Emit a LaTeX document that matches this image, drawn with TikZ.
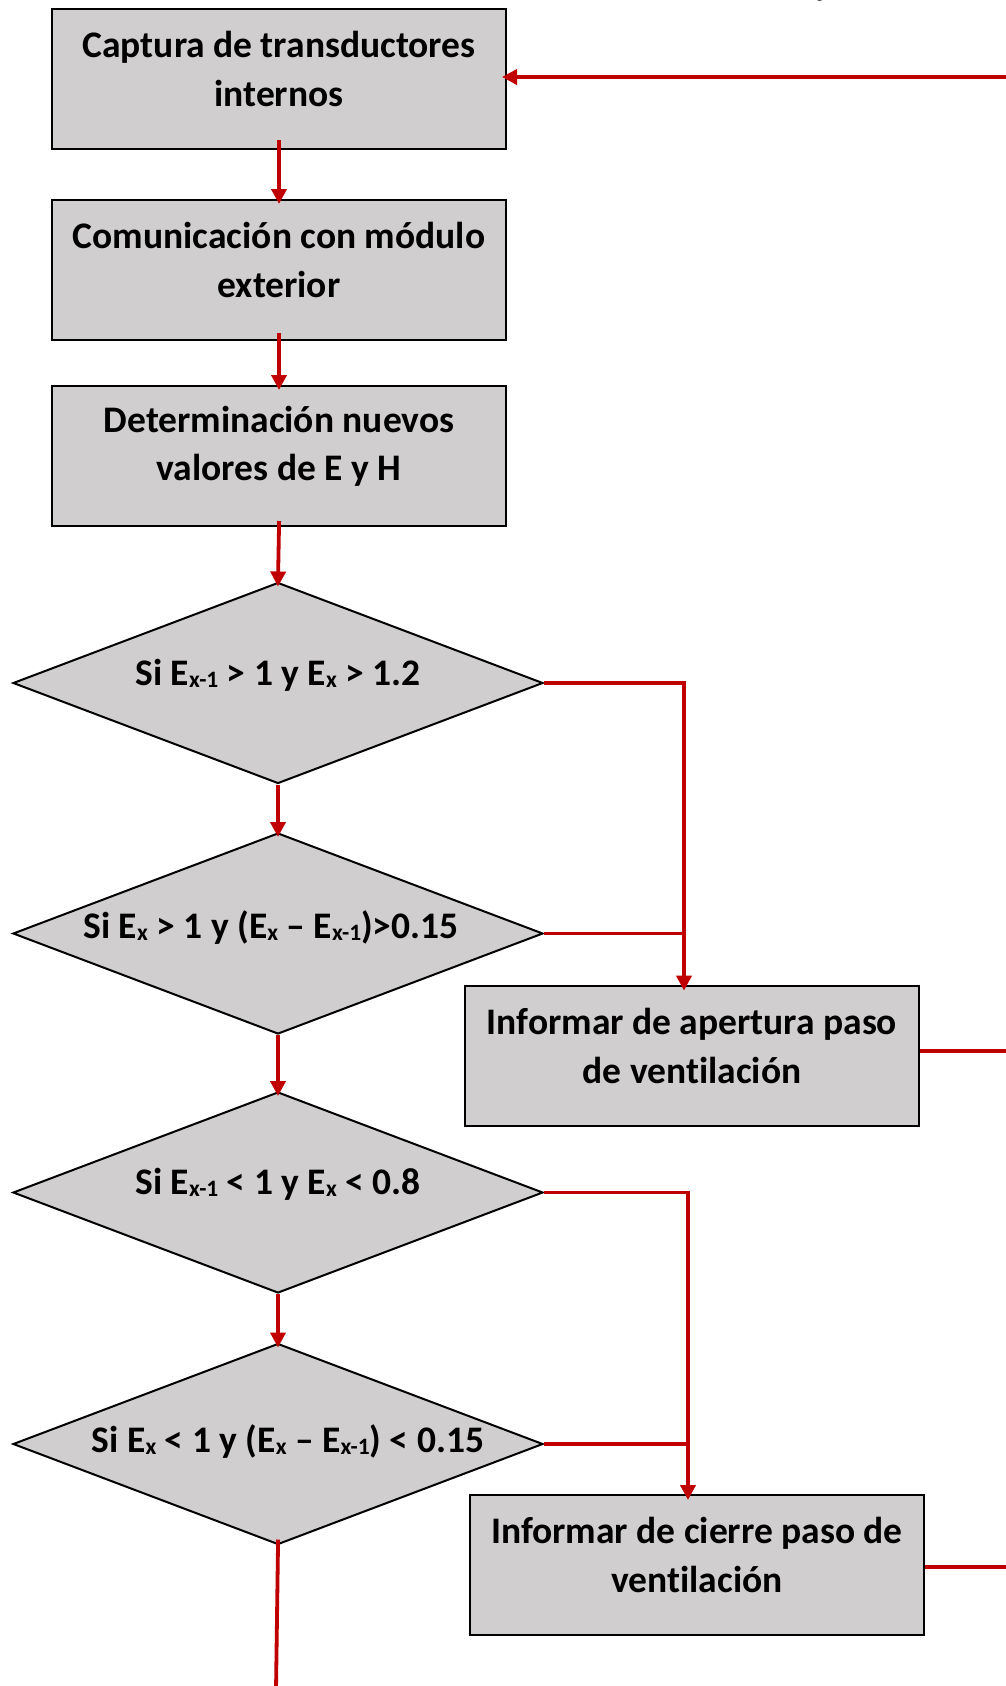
\documentclass[tikz,border=0pt]{standalone}
\usepackage{fontspec}
\setmainfont{Carlito}[Ligatures={NoCommon,NoContextual},RawFeature={-calt}]
\usetikzlibrary{arrows.meta,shapes.geometric,calc}
\definecolor{boxgray}{HTML}{D0CECE}
\definecolor{flowred}{HTML}{C00000}
% lowered, smaller index for E_x, E_{x-1}
\newcommand\subx[1]{\raisebox{-2pt}{\fontsize{23.5}{23.5}\selectfont #1}}
\begin{document}
\begin{tikzpicture}[x=1pt,y=-1pt,
  stepbox/.style={draw=black,line width=2pt,fill=boxgray,
    minimum width=454pt,minimum height=140pt,inner sep=0pt},
  decision/.style={diamond,draw=black,line width=2pt,fill=boxgray,
    minimum width=530pt,minimum height=201pt,inner sep=0pt,aspect=2.6},
  boxtext/.style={font=\fontsize{37.5}{48.4}\selectfont\bfseries,
    align=center,inner sep=0pt},
  flow/.style={draw=flowred,line width=3.8pt},
  arr/.style={flow,-{Triangle[width=15pt,length=15pt]},shorten >=-5pt}
]
\useasboundingbox (0,0) rectangle (1006,1686);

% process boxes
\node[stepbox] (b1) at (279,79) {};
\node[stepbox] (b2) at (279,270) {};
\node[stepbox] (b3) at (279,456) {};
\node[stepbox] (b4) at (692,1056) {};
\node[stepbox] (b5) at (697,1565) {};

% decisions
\node[decision] (d1) at (278,683) {};
\node[decision] (d2) at (278,933.5) {};
\node[decision] (d3) at (278,1192.5) {};
\node[decision] (d4) at (278,1444) {};

% texts
\node[boxtext] (b1t) at (279,69) {Captura de transductores\\internos};
\node[boxtext] (b2t) at (279,260) {Comunicación con módulo\\exterior};
\node[boxtext] (b3t) at (279,446) {Determinación nuevos\\valores de E y H};
\node[boxtext] (b4t) at (692,1046) {Informar de apertura paso\\de ventilación};
\node[boxtext] (b5t) at (697,1555) {Informar de cierre paso de\\ventilación};

\node[boxtext] (d1t) at (278,675) {Si E\subx{x-1} > 1 y E\subx{x} > 1.2};
\node[boxtext] (d2t) at (271,928) {Si E\subx{x} > 1 y (E\subx{x} – E\subx{x-1})>0.15};
\node[boxtext] (d3t) at (278,1184) {Si E\subx{x-1} < 1 y E\subx{x} < 0.8};
\node[boxtext] (d4t) at (288,1442) {Si E\subx{x} < 1 y (E\subx{x} – E\subx{x-1}) < 0.15};

% partly visible glyph at the top edge
\node[font=\fontsize{16}{16}\selectfont\bfseries,anchor=base,inner sep=0pt] (topg) at (820,-1.5) {g};

% main column
\draw[arr,shorten <=-10pt] (b1.south) -- (b2.north);
\draw[arr,shorten <=-8pt] (b2.south) -- (b3.north);
\draw[arr,shorten <=-6pt] (b3.south) -- (d1.north);
\draw[arr] (d1.south) -- (d2.north);
\draw[arr] (d2.south) -- (d3.north);
\draw[arr] (d3.south) -- (d4.north);
\coordinate (bottomend) at (276,1690);
\draw[flow,shorten <=-6pt] (d4.south) -- (bottomend);

% branches to the notification boxes
\coordinate (a4) at (684,985.6);
\coordinate (a5) at (688,1495);
\draw[arr] (d1.east) -| (a4);
\draw[flow] (d2.east) -- (d2.east -| a4);
\draw[arr] (d3.east) -| (a5);
\draw[flow] (d4.east) -- (d4.east -| a5);

% return lines along the right edge
\coordinate (r1) at (1010,77);
\coordinate (r4) at (1010,1051);
\coordinate (r5) at (1010,1567);
\draw[arr] (r1) -- (r1 -| b1.east);
\draw[flow] (b4.east |- r4) -- (r4);
\draw[flow] (b5.east |- r5) -- (r5);
\end{tikzpicture}
\end{document}
